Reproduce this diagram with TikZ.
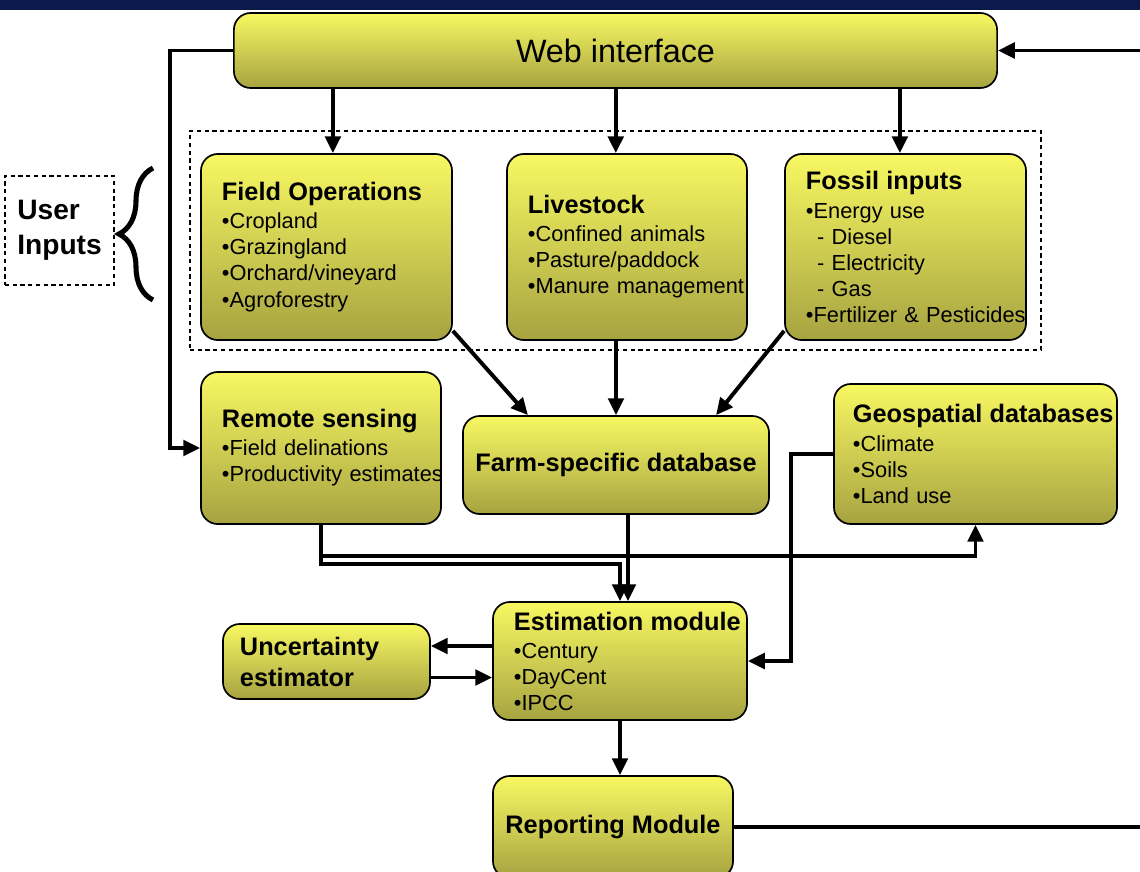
\documentclass[tikz,border=0pt]{standalone}
\usepackage{fontspec}
\setmainfont{Liberation Sans}
\usetikzlibrary{arrows.meta,decorations.pathreplacing,positioning}
\definecolor{bandblue}{HTML}{0C1A4B}
\definecolor{boxtop}{HTML}{F8F862}
\definecolor{boxbot}{HTML}{A6A341}
\hyphenpenalty=10000
\exhyphenpenalty=10000
\newcommand{\boxhead}[1]{{\fontsize{18}{21}\selectfont\bfseries #1}}
\tikzset{
    >={Triangle[length=12pt,width=11pt]},
    module/.style={
        rectangle,
        rounded corners=0.42cm,
        draw=black, line width=1.2pt,
        top color=boxtop,
        bottom color=boxbot,
        inner ysep=0pt
    },
    listbox/.style={
        module,
        inner xsep=0.525cm,
        align=left,
        font=\fontsize{15.5}{18.5}\selectfont
    },
    headbox/.style={
        module,
        font=\fontsize{18}{22}\selectfont\bfseries
    },
    dashbox/.style={draw=black, line width=0.9pt, dash pattern=on 3pt off 2.5pt},
    flow/.style={draw, line width=2.8pt, ->},
    wire/.style={draw, line width=2.8pt},
    decoration={brace, amplitude=0.85cm},
    bracket/.style={decorate, line width=3.6pt}
}

\begin{document}
\begin{tikzpicture}[x=0.025cm, y=-0.025cm]
    \useasboundingbox (0,0) rectangle (1140,871);
    \fill[bandblue] (0,0) rectangle (1140,10);

    % -- Inputs -- %
    \node[dashbox, minimum width=21.275cm, minimum height=5.475cm] (inputs) at (615.5,240.5) {};
    \node[dashbox, minimum width=2.725cm, minimum height=2.725cm, align=left,
          font=\fontsize{20}{25}\selectfont\bfseries] (user) at (59.5,230.5) {User\\Inputs};
    \draw[bracket] (153,300) -- (153,168);

    \node[module, font=\fontsize{23}{27}\selectfont, minimum width=19.075cm,
          minimum height=1.875cm] (web) at (615.5,50.5) {Web interface};

    \node[listbox, minimum width=6.275cm, minimum height=4.65cm, text width=5.225cm]
        (field) at (326.5,247) {\boxhead{Field~Operations}\\[1.5pt]
        •Cropland\\ •Grazingland\\ •Orchard/vineyard\\ •Agroforestry\\[12pt]};
    \node[listbox, minimum width=6cm, minimum height=4.65cm, text width=4.95cm]
        (live) at (627,247) {\boxhead{Livestock}\\[1.5pt]
        •Confined~animals\\ •Pasture/paddock\\ •Manure~management};
    \node[listbox, minimum width=6.025cm, minimum height=4.65cm, text width=4.975cm]
        (fossil) at (905.5,247) {\boxhead{Fossil~inputs}\\[1.5pt]
        •Energy~use\\ \hspace*{8pt}-~Diesel\\ \hspace*{8pt}-~Electricity\\
        \hspace*{8pt}-~Gas\\ •Fertilizer~\&~Pesticides};

    % -- Databases -- %
    \node[listbox, minimum width=6cm, minimum height=3.8cm, text width=4.95cm]
        (remote) at (321,448) {\boxhead{Remote~sensing}\\[1.5pt]
        •Field~delinations\\ •Productivity~estimates};
    \node[headbox, minimum width=7.65cm, minimum height=2.45cm] (farm) at (616,465)
        {Farm-specific database};
    \node[listbox, minimum width=7.075cm, minimum height=3.5cm, inner xsep=0.475cm,
          text width=6.125cm] (geo) at (975.5,454) {\boxhead{Geospatial~databases}\\[1.5pt]
        •Climate\\ •Soils\\ •Land~use};

    % -- Modules -- %
    \node[listbox, minimum width=6.35cm, minimum height=2.95cm, text width=5.3cm]
        (est) at (620,661) {\boxhead{Estimation~module}\\[1.5pt]
        •Century\\ •DayCent\\ •IPCC};
    \node[headbox, minimum width=5.175cm, minimum height=1.875cm, inner xsep=0.425cm,
          text width=4.325cm, align=left] (unc) at (326.5,661.5) {Uncertainty\\estimator};
    \node[headbox, minimum width=6cm, minimum height=2.55cm] (rep) at (613,827)
        {Reporting Module};

    \coordinate (webin) at (1140,50.5);
    \coordinate (repout) at (1140,827);

    % -- Connectors -- %
    \draw[flow] (webin) -- (web.east);
    \draw[flow] (web.west) -- (170,50.5) |- (remote.west);
    \foreach \dest/\dx in {field/0.16, live/-0.28, fossil/-0.14}
        \draw[flow] ([xshift=\dx cm]\dest.north |- web.south) -- ([xshift=\dx cm]\dest.north);

    \draw[flow] ([yshift=0.25cm]field.south east) -- ([xshift=-2.2cm]farm.north);
    \draw[flow] (live.south -| farm.north) -- (farm.north);
    \draw[flow] ([yshift=0.25cm]fossil.south west) -- ([xshift=2.5cm]farm.north);

    \draw[flow] (remote.south) -- ++(0,31) -| (geo.south);
    \draw[flow] (remote.south) -- ++(0,39) -| (est.north);
    \draw[flow] ([xshift=0.3cm]farm.south) -- ([xshift=0.2cm]est.north);
    \draw[flow] (geo.west) -- ++(-42,0) |- (est.east);

    \draw[flow] ([yshift=0.375cm]est.west) -- ([yshift=0.375cm]est.west -| unc.east);
    \draw[flow] ([yshift=-0.4cm]unc.east) -- ([yshift=-0.4cm]unc.east -| est.west);
    \draw[flow] (est.south) -- (est.south |- rep.north);
    \draw[wire] (rep.east) -- (repout);
\end{tikzpicture}
\end{document}
